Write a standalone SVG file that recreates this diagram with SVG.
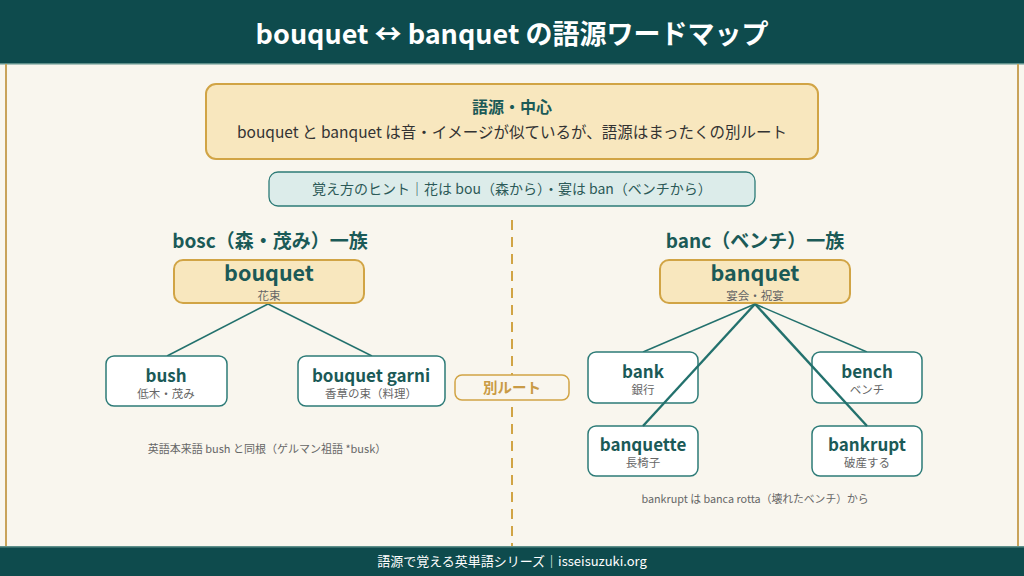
<svg xmlns="http://www.w3.org/2000/svg" width="1024" height="576" viewBox="0 0 1024 576">
<style>
text{font-family:"Noto Sans CJK JP","Noto Sans",sans-serif;text-anchor:middle}
.title{font-size:27px;font-weight:700;fill:#ffffff}
.foot{font-size:13px;fill:#ffffff}
.teal{fill:#1b5a57;font-weight:700}
.gray{fill:#666666}
.dark{fill:#333333}
.hub{fill:#f8e7be;stroke:#d1a445;stroke-width:2}
.leaf{fill:#ffffff;stroke:#2d7b77;stroke-width:1.5}
.conn{stroke:#23716d;stroke-width:1.5;fill:none}
.conn2{stroke:#23716d;stroke-width:2.4;fill:none}
</style>
<rect x="0" y="0" width="1024" height="576" fill="#f9f6ee"/>
<rect x="0" y="0" width="1024" height="64" fill="#0e4b4d"/>
<rect x="0" y="63" width="1024" height="1.5" fill="#5e8f8a"/>
<text class="title" x="512" y="44">bouquet ↔ banquet の語源ワードマップ</text>
<line x1="6" y1="64" x2="6" y2="547" stroke="#c9a35a" stroke-width="2"/>
<line x1="1018" y1="64" x2="1018" y2="547" stroke="#c9a35a" stroke-width="2"/>
<rect x="0" y="547" width="1024" height="29" fill="#0e4b4d"/>
<rect x="0" y="546" width="1024" height="1.5" fill="#5e8f8a"/>
<text class="foot" x="512" y="566">語源で覚える英単語シリーズ｜isseisuzuki.org</text>

<g id="center">
<rect x="206" y="84" width="612" height="75" rx="10" class="hub"/>
<text class="teal" x="512" y="113" font-size="16">語源・中心</text>
<text class="dark" x="512" y="138" font-size="15.5">bouquet と banquet は音・イメージが似ているが、語源はまったくの別ルート</text>
</g>
<g id="hint">
<rect x="269" y="172" width="486" height="34" rx="9" fill="#dcecea" stroke="#2d7b77" stroke-width="1.3"/>
<text x="512" y="194" font-size="14" fill="#2c5a58">覚え方のヒント｜花は bou（森から）・宴は ban（ベンチから）</text>
</g>

<line x1="512" y1="220" x2="512" y2="546" stroke="#d1a445" stroke-width="2" stroke-dasharray="10 7"/>

<text class="teal" x="270" y="248" font-size="19">bosc（森・茂み）一族</text>
<text class="teal" x="755" y="248" font-size="19">banc（ベンチ）一族</text>

<g id="connectors">
<line class="conn" x1="268" y1="304" x2="167" y2="356"/>
<line class="conn" x1="268" y1="304" x2="372" y2="356"/>
<line class="conn" x1="755" y1="304" x2="643" y2="352"/>
<line class="conn" x1="755" y1="304" x2="867" y2="352"/>
</g>

<g id="bouquet">
<rect x="174" y="260" width="190" height="43" rx="9" class="hub"/>
<text class="teal" x="269" y="281" font-size="21.5">bouquet</text>
<text class="gray" x="269" y="299.5" font-size="11.5">花束</text>
</g>
<g id="banquet">
<rect x="660" y="260" width="190" height="43" rx="9" class="hub"/>
<text class="teal" x="755" y="281" font-size="21.5">banquet</text>
<text class="gray" x="755" y="299.5" font-size="11.5">宴会・祝宴</text>
</g>
<g id="bush">
<rect x="106" y="356" width="121" height="50" rx="8" class="leaf"/>
<text class="teal" x="166" y="382" font-size="17">bush</text>
<text class="gray" x="166" y="398" font-size="11.5">低木・茂み</text>
</g>
<g id="bouquet-garni">
<rect x="298" y="356" width="147" height="50" rx="8" class="leaf"/>
<text class="teal" x="371" y="382" font-size="17">bouquet garni</text>
<text class="gray" x="371" y="398" font-size="11.5">香草の束（料理）</text>
</g>
<g id="betsu-route">
<rect x="455" y="375" width="114" height="25" rx="7" fill="#f9f6ee" stroke="#d1a445" stroke-width="1.5"/>
<text x="512" y="393" font-size="14.5" font-weight="700" fill="#c99b45">別ルート</text>
</g>
<g id="bank">
<rect x="588" y="352" width="110" height="51" rx="8" class="leaf"/>
<text class="teal" x="643" y="378" font-size="17">bank</text>
<text class="gray" x="643" y="394" font-size="11.5">銀行</text>
</g>
<g id="bench">
<rect x="812" y="352" width="110" height="51" rx="8" class="leaf"/>
<text class="teal" x="867" y="378" font-size="17">bench</text>
<text class="gray" x="867" y="394" font-size="11.5">ベンチ</text>
</g>
<g id="banquette">
<rect x="588" y="426" width="110" height="50" rx="8" class="leaf"/>
<text class="teal" x="643" y="451" font-size="17">banquette</text>
<text class="gray" x="643" y="467" font-size="11.5">長椅子</text>
</g>
<g id="bankrupt">
<rect x="812" y="426" width="110" height="50" rx="8" class="leaf"/>
<text class="teal" x="867" y="451" font-size="17">bankrupt</text>
<text class="gray" x="867" y="467" font-size="11.5">破産する</text>
</g>
<g id="connectors-over">
<line class="conn2" x1="755" y1="304" x2="643" y2="426"/>
<line class="conn2" x1="755" y1="304" x2="867" y2="426"/>
</g>

<text class="gray" x="267" y="453" font-size="11">英語本来語 bush と同根（ゲルマン祖語 *busk）</text>
<text class="gray" x="755" y="503" font-size="10.8">bankrupt は banca rotta（壊れたベンチ）から</text>
</svg>
